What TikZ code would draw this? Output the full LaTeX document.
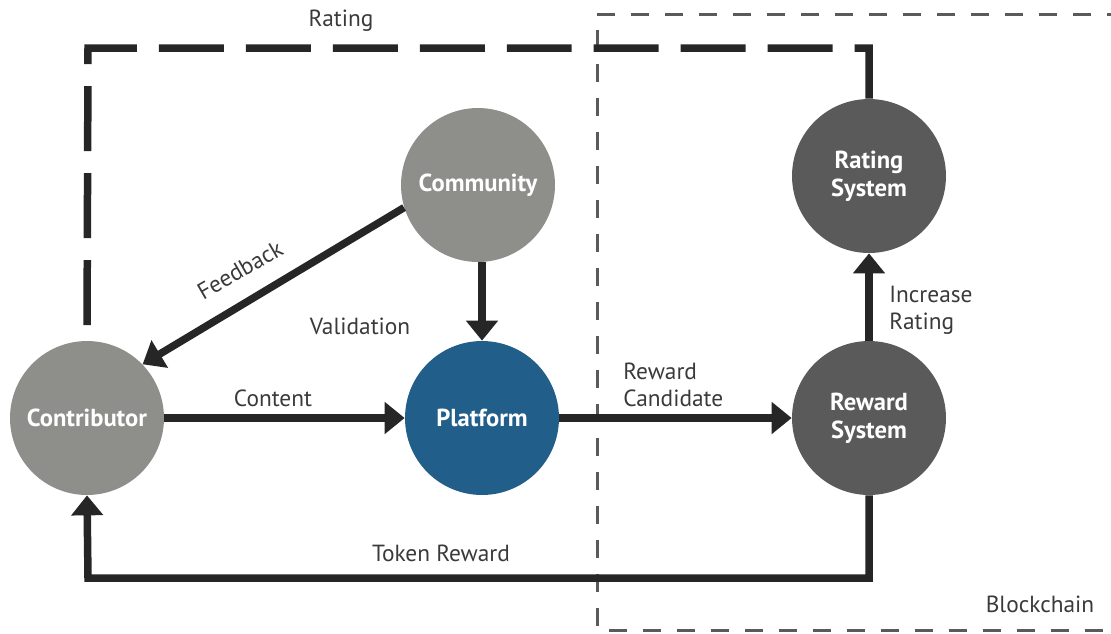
\documentclass[tikz,border=0pt]{standalone}
\usepackage{fontspec}
\setmainfont{PT Sans}
\usetikzlibrary{arrows.meta, positioning}

\definecolor{nodegray}{HTML}{8E8F8A}
\definecolor{nodedark}{HTML}{5A5A5A}
\definecolor{nodeblue}{HTML}{215E8A}
\definecolor{lineblack}{HTML}{262626}
\definecolor{chaingray}{HTML}{5A5A5A}
\definecolor{labelgray}{HTML}{3A3A3A}

\begin{document}
\begin{tikzpicture}[
            x=0.02cm, y=-0.02cm,
            gnode/.style={circle, minimum size=3.08cm, inner sep=0pt, text=white,
                          font=\fontsize{14}{16}\selectfont\bfseries, align=center},
            arrow/.style={-{Triangle[width=0.62cm,length=0.4cm]}, line width=0.15cm, lineblack},
            ratingline/.style={line width=0.15cm, lineblack, dash pattern=on 1.3cm off 0.44cm},
            chainline/.style={line width=0.06cm, chaingray, dash pattern=on 0.36cm off 0.32cm},
            elabel/.style={font=\fontsize{13.3}{15.6}\selectfont, text=labelgray, inner sep=0pt}
        ]
        \useasboundingbox (0,0) rectangle (1111,633);

        % --- blockchain area ---
        \draw[chainline] (1125,14) -- (597,14) -- (597,630) -- (1125,630);
        \node[elabel] (chainLbl) at (1040,604) {Blockchain};

        % --- nodes ---
        \node[gnode, fill=nodegray] (Contributor) at (87,418) {Contributor};
        \node[gnode, fill=nodeblue] (Platform) at (482,418) {Platform};
        \node[gnode, fill=nodegray] (Community) at (478,185) {Community};
        \node[gnode, fill=nodedark] (RatingSys) at (869,176) {Rating\\System};
        \node[gnode, fill=nodedark] (RewardSys) at (869,418) {Reward\\System};
        \coordinate (rateCorner) at (88,48);
        \coordinate (tokenCorner) at (88,578);

        % --- flows ---
        \draw[arrow] (Contributor) -- (Platform);
        \draw[arrow] (Platform) -- (RewardSys);
        \draw[arrow] (Community.south -| Platform) -- (Platform);
        \draw[arrow] (Community.197) -- (Contributor.44);
        \draw[arrow] (RewardSys) -- (RatingSys);
        \draw[arrow] (RewardSys.south) |- (tokenCorner) -- (Contributor.south);
        \draw[ratingline, shorten >=0.16cm] (RatingSys.north) |- (rateCorner) -- (Contributor.north);

        % --- labels ---
        \node[elabel] (contentLbl) at (273,398) {Content};
        \node[elabel] (validLbl) at (360,326) {Validation};
        \node[elabel, rotate=30] (feedLbl) at (240,270) {Feedback};
        \node[elabel] (tokenLbl) at (441,553) {Token Reward};
        \node[elabel] (ratingLbl) at (341,21) {Rating};
        \node[elabel, align=left, anchor=west] (candLbl) at (623,385) {Reward\\Candidate};
        \node[elabel, align=left, anchor=west] (incLbl) at (889,310) {Increase\\Rating};
        \end{tikzpicture}
\end{document}
